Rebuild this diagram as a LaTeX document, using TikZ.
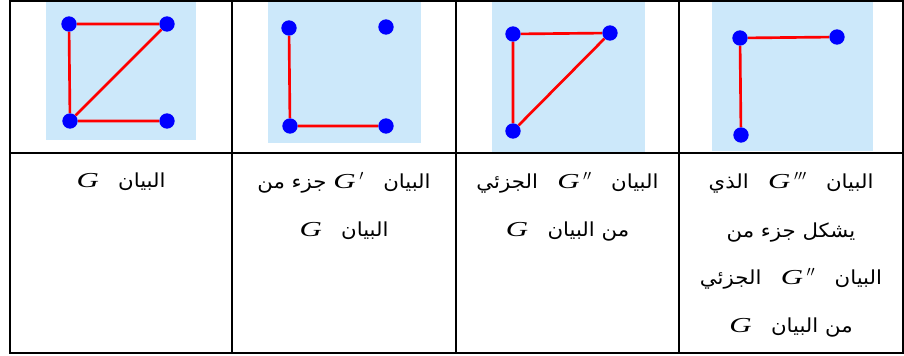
\documentclass[tikz,border=0pt]{standalone}
\usepackage{fontspec}
\setmainfont{Liberation Serif}
\newfontfamily\arabicfont[Script=Arabic,FakeStretch=1.1]{DejaVu Sans}
\newfontfamily\gfont[FakeStretch=1.45]{Liberation Serif}
\TeXXeTstate=1
\definecolor{panelblue}{RGB}{204,232,250}
\newcommand{\artext}[1]{{\arabicfont\beginR #1\endR}}
\newcommand{\graphG}[1]{\beginL{\fontsize{16}{36}\selectfont\gfont\itshape G%
    \if\relax\detokenize{#1}\relax\else\,$#1$\fi}\endL}

\begin{document}
\begin{tikzpicture}[x=0.75pt,y=-0.75pt,
    vertex/.style={circle,fill=blue,inner sep=0pt,minimum size=11.5pt},
    edge/.style={red,line width=2pt},
    panel/.style={fill=panelblue},
    rule/.style={line width=1.8pt},
    caption/.style={font=\fontsize{14.5}{36}\selectfont,align=center,anchor=base,inner sep=0pt}]
    \useasboundingbox (0,0) rectangle (904,356);
    \fill[panel] (46,2) rectangle (196,140);
    \fill[panel] (268,2) rectangle (421,143);
    \fill[panel] (492,2) rectangle (645,152);
    \fill[panel] (712,2) rectangle (873,151);
    % graph G
    \node[vertex] (g1) at (69,24) {};
    \node[vertex] (g2) at (167,24) {};
    \node[vertex] (g3) at (70,121) {};
    \node[vertex] (g4) at (167,121) {};
    \draw[edge] (g1) -- (g2) (g1) -- (g3) (g2) -- (g3) (g3) -- (g4);
    % G'
    \node[vertex] (p1) at (289,28) {};
    \node[vertex] (p2) at (386,27) {};
    \node[vertex] (p3) at (290,126) {};
    \node[vertex] (p4) at (386,126) {};
    \draw[edge] (p1) -- (p3) (p3) -- (p4);
    % G''
    \node[vertex] (q1) at (513,34) {};
    \node[vertex] (q2) at (610,33) {};
    \node[vertex] (q3) at (513,131) {};
    \draw[edge] (q1) -- (q2) (q1) -- (q3) (q2) -- (q3);
    % G'''
    \node[vertex] (r1) at (740,38) {};
    \node[vertex] (r2) at (837,37) {};
    \node[vertex] (r3) at (741,135) {};
    \draw[edge] (r1) -- (r2) (r1) -- (r3);
    % table
    \draw[rule] (10,1) rectangle (903,353);
    \draw[rule] (10,153) -- (903,153);
    \foreach \x in {232,456,679}
        \draw[rule] (\x,1) -- (\x,353);
    % captions (base = last line)
    \node[caption] (c1) at (121,188) {\artext{البيان\quad\graphG{}}};
    \node[caption] (c2) at (344,237) {\artext{البيان\quad\graphG{'} جزء من}\\
        \artext{البيان\quad\graphG{}}};
    \node[caption] (c3) at (567.5,237) {\artext{البيان\quad\graphG{''}\quad الجزئي}\\
        \artext{من البيان\quad\graphG{}}};
    \node[caption] (c4) at (791,333) {\artext{البيان\quad\graphG{'''}\quad الذي}\\
        \artext{يشكل جزء من}\\
        \artext{البيان\quad\graphG{''}\quad الجزئي}\\
        \artext{من البيان\quad\graphG{}}};
\end{tikzpicture}
\end{document}
